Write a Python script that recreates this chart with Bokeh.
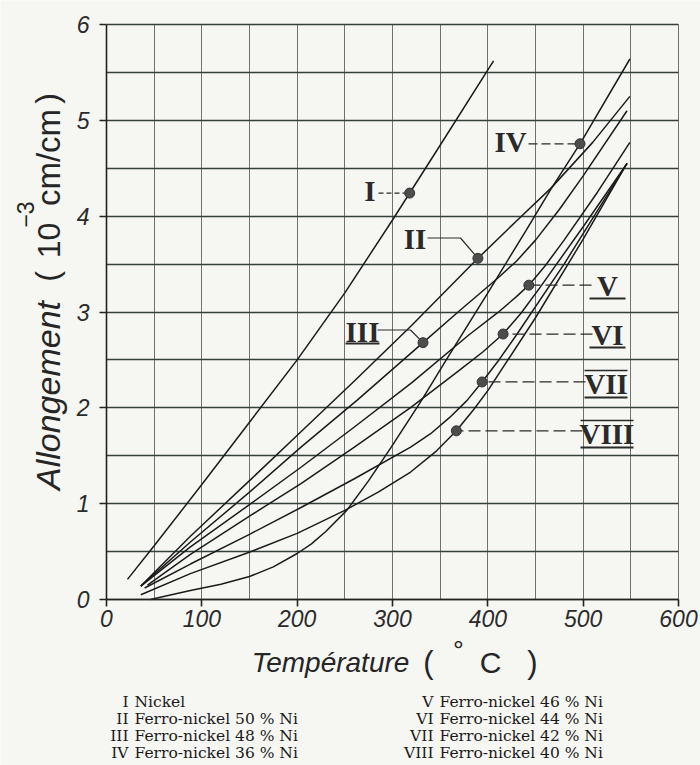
import numpy as np
from bokeh.plotting import figure
from bokeh.models import Label, FixedTicker, Range1d, LinearAxis, Grid
from bokeh.embed import file_html
from bokeh.resources import INLINE

# ---------------- data ----------------
temp_I = [22, 50, 100, 150, 200, 250, 300, 350, 406]
elong_I = [0.21, 0.56, 1.20, 1.85, 2.50, 3.20, 3.96, 4.74, 5.62]

temp_II = [36, 88, 150, 204, 260, 320, 389.6, 430, 466, 510, 549]
elong_II = [0.14, 0.66, 1.24, 1.75, 2.28, 2.86, 3.56, 3.95, 4.29, 4.77, 5.25]

temp_III = [36, 88, 150, 204, 263, 332, 370, 410, 430, 450, 475, 500, 546]
elong_III = [0.14, 0.60, 1.12, 1.59, 2.08, 2.68, 3.01, 3.35, 3.53, 3.75, 4.07, 4.42, 5.10]

temp_IV = [46, 88, 120, 150, 175, 200, 215, 230, 252, 275, 298, 330, 357, 400, 440, 466, 497, 549]
elong_IV = [0.0, 0.094, 0.16, 0.24, 0.34, 0.48, 0.58, 0.71, 0.93, 1.24, 1.58, 2.07, 2.51, 3.20, 3.85, 4.28, 4.76, 5.64]

temp_V = [36, 88, 150, 204, 260, 320, 380, 410, 430, 443, 460, 480, 515, 549]
elong_V = [0.14, 0.55, 0.99, 1.38, 1.80, 2.26, 2.76, 2.99, 3.16, 3.28, 3.48, 3.75, 4.25, 4.77]

temp_VI = [43, 88, 150, 204, 260, 320, 370, 395, 416, 435, 455, 500, 546]
elong_VI = [0.15, 0.47, 0.87, 1.21, 1.59, 2.01, 2.39, 2.585, 2.77, 2.99, 3.26, 3.89, 4.55]

temp_VII = [40, 88, 150, 204, 260, 319, 340, 360, 378, 394, 412, 430, 480, 546]
elong_VII = [0.12, 0.37, 0.68, 0.96, 1.26, 1.59, 1.73, 1.90, 2.075, 2.27, 2.505, 2.76, 3.50, 4.55]

temp_VIII = [36, 88, 149, 200, 250, 285, 319, 345, 367, 385, 400, 450, 500, 546]
elong_VIII = [0.05, 0.27, 0.49, 0.69, 0.93, 1.12, 1.33, 1.54, 1.76, 1.98, 2.18, 2.94, 3.76, 4.55]

curve_ids = ["I", "II", "III", "IV", "V", "VI", "VII", "VIII"]
# temperature at which each curve carries its marker dot
marker_temp = [318, 389.6, 332, 496.7, 443, 416, 394, 367]

legend_left_ids = ["I", "II", "III", "IV"]
legend_left_txt = ["Nickel", "Ferro-nickel 50 % Ni", "Ferro-nickel 48 % Ni", "Ferro-nickel 36 % Ni"]
legend_right_ids = ["V", "VI", "VII", "VIII"]
legend_right_txt = ["Ferro-nickel 46 % Ni", "Ferro-nickel 44 % Ni", "Ferro-nickel 42 % Ni", "Ferro-nickel 40 % Ni"]

x_ticks = [0, 100, 200, 300, 400, 500, 600]
y_ticks = [0, 1, 2, 3, 4, 5, 6]
x_grid = list(range(0, 601, 50))
y_grid = [k * 0.5 for k in range(13)]

curves = {
    "I": (temp_I, elong_I), "II": (temp_II, elong_II), "III": (temp_III, elong_III),
    "IV": (temp_IV, elong_IV), "V": (temp_V, elong_V), "VI": (temp_VI, elong_VI),
    "VII": (temp_VII, elong_VII), "VIII": (temp_VIII, elong_VIII),
}

# ---------------- layout helpers (page pixels -> data units) ----------------
W, H = 700, 765
FL, FR, FT, FB = 106, 678, 24, 599   # plot area in page pixels
def dx(px):
    return (px - FL) * 600.0 / (FR - FL)
def dy(py):
    return (FB - py) * 6.0 / (FB - FT)

BG = "#f6f6f3"
INK = "#1b1b1b"

p = figure(width=W, height=H, x_range=Range1d(dx(0), dx(W)), y_range=Range1d(dy(H), dy(0)),
           output_backend="svg", toolbar_location=None,
           x_axis_type=None, y_axis_type=None,
           min_border_left=0, min_border_right=0, min_border_top=0, min_border_bottom=0)
p.background_fill_color = BG
p.border_fill_color = BG
p.outline_line_color = None

# ---------------- grid ----------------
has_cross = "cross_bounds" in Grid.properties()
gx = Grid(dimension=0, ticker=FixedTicker(ticks=x_grid), bounds=(0, 600),
          grid_line_color="#707070", grid_line_width=1)
gy = Grid(dimension=1, ticker=FixedTicker(ticks=y_grid), bounds=(0, 6),
          grid_line_color="#33403c", grid_line_width=1.3)
if has_cross:
    gx.cross_bounds = (0, 6)
    gy.cross_bounds = (0, 600)
    p.add_layout(gx)
    p.add_layout(gy)
else:
    p.segment(x0=x_grid, y0=[0] * len(x_grid), x1=x_grid, y1=[6] * len(x_grid),
              line_color="#707070", line_width=1)
    p.segment(x0=[0] * len(y_grid), y0=y_grid, x1=[600] * len(y_grid), y1=y_grid,
              line_color="#33403c", line_width=1.3)

# ---------------- axes pinned at the data origin ----------------
xax = LinearAxis(fixed_location=0, bounds=(0, 600), ticker=FixedTicker(ticks=x_ticks))
yax = LinearAxis(fixed_location=0, bounds=(0, 6), ticker=FixedTicker(ticks=y_ticks))
for ax in (xax, yax):
    ax.major_tick_out = 7
    ax.major_tick_in = 0
    ax.minor_tick_out = 0
    ax.minor_tick_in = 0
    ax.axis_line_color = "#222222"
    ax.axis_line_width = 1.6
    ax.major_tick_line_color = "#222222"
    ax.major_tick_line_width = 1.6
    ax.major_label_text_font = "Liberation Sans"
    ax.major_label_text_font_style = "italic"
    ax.major_label_text_font_size = "23px"
    ax.major_label_text_color = "#2b2b2b"
xax.major_label_standoff = 3
yax.major_label_standoff = 10
p.add_layout(xax, "below")
p.add_layout(yax, "left")

# ---------------- curves ----------------
for cid in curve_ids:
    xs, ys = curves[cid]
    p.line(xs, ys, line_color=INK, line_width=1.5)

dot_x = []
dot_y = []
for cid, mt in zip(curve_ids, marker_temp):
    xs, ys = curves[cid]
    dot_x.append(mt)
    dot_y.append(float(np.interp(mt, xs, ys)))
dots = dict(zip(curve_ids, zip(dot_x, dot_y)))

# ---------------- leaders ----------------
def hline(cid, px_end, dash):
    x0, y0 = dots[cid]
    p.line([dx(px_end), x0], [y0, y0], line_color="#2a2a2a", line_width=1.2, line_dash=dash)

hline("I", 378, "5 3")
hline("IV", 528, "9 4")
hline("V", 591, "12 5")
hline("VI", 592, "12 5")
hline("VII", 585, "12 5")
hline("VIII", 582, "12 5")
x2, y2 = dots["II"]
p.line([dx(427), dx(460), x2], [dy(237.5), dy(237.5), y2], line_color="#2a2a2a", line_width=1.2)
x3, y3 = dots["III"]
p.line([dx(377), dx(410), x3], [dy(329.5), dy(329.5), y3], line_color="#2a2a2a", line_width=1.2)

p.scatter(dot_x, dot_y, size=10, color="#4d4d4d", line_color="#333333")

# ---------------- roman labels on the chart ----------------
label_box = {  # left, right, top, bottom in page pixels
    "I": (362, 377, 177, 203), "II": (402, 427, 226, 251), "III": (348, 376, 320, 343),
    "IV": (493, 527, 129, 154), "V": (592, 622, 273, 298), "VI": (592, 622, 322, 347),
    "VII": (587, 624, 370, 397), "VIII": (583, 630, 420, 447),
}
under_bar = ["III", "V", "VI", "VII", "VIII"]
over_bar = ["VII", "VIII"]
for cid in curve_ids:
    l, r, t, b = label_box[cid]
    p.add_layout(Label(x=dx((l + r) / 2), y=dy((t + b) / 2), text=cid,
                       text_font="Liberation Serif", text_font_style="bold",
                       text_font_size="29px", text_color="#2a2a2a",
                       text_align="center", text_baseline="middle"))
    if cid in under_bar:
        p.line([dx(l - 3), dx(r + 3)], [dy(b), dy(b)], line_color="#2a2a2a", line_width=2)
    if cid in over_bar:
        p.line([dx(l - 3), dx(r + 3)], [dy(t), dy(t)], line_color="#2a2a2a", line_width=1.4)

# ---------------- axis titles ----------------
def lab(px, py, text, size, style="normal", angle=0.0, font="Liberation Sans", align="center", color="#262626"):
    p.add_layout(Label(x=dx(px), y=dy(py), text=text, text_font=font, text_font_style=style,
                       text_font_size=size, text_color=color, text_align=align,
                       text_baseline="middle", angle=angle))

rot = np.pi / 2
lab(47, 395, "Allongement", "34px", "italic", rot)
lab(46, 276, "(", "32px", "normal", rot)
lab(48, 240, "10", "32px", "normal", rot)
lab(25, 214, "\u22123", "23px", "normal", rot)
lab(48, 157, "cm/cm", "33px", "normal", rot)
lab(46, 98, ")", "32px", "normal", rot)

lab(330, 662, "Température", "28px", "italic")
lab(428, 662, "(", "31px")
lab(458, 650, "°", "27px")
lab(490, 662, "C", "30px")
lab(532, 662, ")", "31px")

# ---------------- legend text ----------------
rows_y = [701, 718, 735, 752]
for i in range(4):
    lab(128, rows_y[i], legend_left_ids[i], "15.5px", font="DejaVu Serif", align="right", color="#1a1a1a")
    lab(134, rows_y[i], legend_left_txt[i], "15.5px", font="DejaVu Serif", align="left", color="#1a1a1a")
    lab(433, rows_y[i], legend_right_ids[i], "15.5px", font="DejaVu Serif", align="right", color="#1a1a1a")
    lab(439, rows_y[i], legend_right_txt[i], "15.5px", font="DejaVu Serif", align="left", color="#1a1a1a")

open("out.html", "w").write(file_html(p, INLINE))
